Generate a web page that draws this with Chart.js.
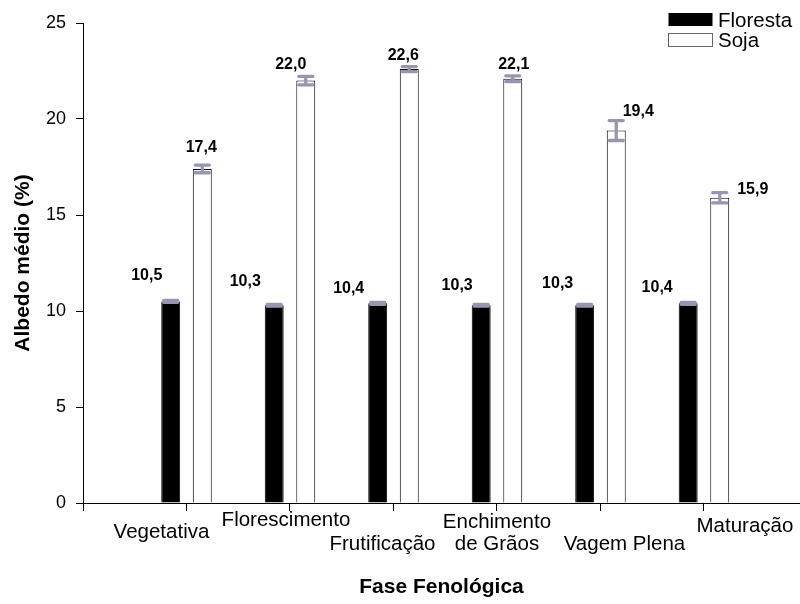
<!DOCTYPE html>
<html>
<head>
<meta charset="utf-8">
<script src="https://cdn.jsdelivr.net/npm/chart.js@4"></script>
<style>
  html, body { margin: 0; padding: 0; background: #fff; }
</style>
</head>
<body>
<canvas id="chart" width="800" height="604"></canvas>
<script>
// Data
const categories = ['Vegetativa', 'Florescimento', 'Frutificação', ['Enchimento', 'de Grãos'], 'Vagem Plena', 'Maturação'];
const florestaValues = [10.5, 10.3, 10.4, 10.3, 10.3, 10.4];
const sojaValues = [17.4, 22.0, 22.6, 22.1, 19.4, 15.9];
const florestaErrors = [0.05, 0.05, 0.05, 0.05, 0.05, 0.05];
const sojaErrors = [0.2, 0.22, 0.13, 0.15, 0.52, 0.27];
const yTicks = [0, 5, 10, 15, 20, 25];
const seriesNames = ['Floresta', 'Soja'];

// Layout tweaks (pixel nudges relative to scale positions)
const FONT = "'Liberation Sans', Arial, Helvetica, sans-serif";
const ERR_COLOR = '#9696b0';
const florestaLabelShift = [[-24, -21], [-29, -19], [-29, -10], [-24, -15], [-27, -17], [-31, -11]];
const sojaLabelShift = [[-1, -17], [-15, -12], [-6, -9], [1, -10], [22, -15], [33, -4]];
const xLabelShift = [[-25, 35], [-4, 23], [-11, 47], [0, 25], [24, 47], [41, 29]];

const fmt = v => v.toFixed(1).replace('.', ',');

const errorBars = {
    id: 'errorBars',
    afterDatasetsDraw(chart) {
        const ctx = chart.ctx;
        const yScale = chart.scales.y;
        [florestaErrors, sojaErrors].forEach((errs, di) => {
            const meta = chart.getDatasetMeta(di);
            const values = di === 0 ? florestaValues : sojaValues;
            meta.data.forEach((bar, i) => {
                const top = yScale.getPixelForValue(values[i] + errs[i]);
                const bot = yScale.getPixelForValue(values[i] - errs[i]);
                const half = 7;
                ctx.save();
                ctx.strokeStyle = ERR_COLOR;
                ctx.lineWidth = 3.3;
                ctx.lineCap = 'round';
                ctx.beginPath();
                ctx.moveTo(bar.x, top);
                ctx.lineTo(bar.x, bot);
                ctx.moveTo(bar.x - half, top);
                ctx.lineTo(bar.x + half, top);
                ctx.moveTo(bar.x - half, bot);
                ctx.lineTo(bar.x + half, bot);
                ctx.stroke();
                ctx.restore();
            });
        });
    }
};

const valueLabels = {
    id: 'valueLabels',
    afterDraw(chart) {
        const ctx = chart.ctx;
        ctx.save();
        ctx.fillStyle = '#000';
        ctx.font = 'bold 16px ' + FONT;
        ctx.textAlign = 'center';
        ctx.textBaseline = 'alphabetic';
        [florestaValues, sojaValues].forEach((values, di) => {
            const shifts = di === 0 ? florestaLabelShift : sojaLabelShift;
            chart.getDatasetMeta(di).data.forEach((bar, i) => {
                ctx.fillText(fmt(values[i]), bar.x + shifts[i][0], bar.y + shifts[i][1]);
            });
        });

        // category labels under the x axis
        const xScale = chart.scales.x;
        const base = chart.chartArea.bottom;
        ctx.font = '20.5px ' + FONT;
        categories.forEach((cat, i) => {
            const x = xScale.getPixelForValue(i) + xLabelShift[i][0];
            const lines = Array.isArray(cat) ? cat : [cat];
            lines.forEach((line, k) => {
                ctx.fillText(line, x, base + xLabelShift[i][1] + k * 22);
            });
        });

        // legend
        ctx.textAlign = 'left';
        ctx.font = '20.5px ' + FONT;
        ctx.fillStyle = '#000';
        ctx.fillRect(668.5, 13, 44, 13);
        ctx.fillStyle = '#fff';
        ctx.fillRect(668.5, 33.5, 44, 13);
        ctx.strokeStyle = '#666';
        ctx.lineWidth = 1;
        ctx.strokeRect(668.5, 33.5, 44, 13);
        ctx.fillStyle = '#000';
        ctx.fillText(seriesNames[0], 718, 27);
        ctx.fillText(seriesNames[1], 718, 47);
        ctx.restore();
    }
};

new Chart(document.getElementById('chart'), {
    type: 'bar',
    data: {
        datasets: [
            {
                label: seriesNames[0],
                data: florestaValues.map((v, i) => ({ x: i, y: v })),
                backgroundColor: '#000',
                borderColor: '#000',
                borderWidth: 1
            },
            {
                label: seriesNames[1],
                data: sojaValues.map((v, i) => ({ x: i, y: v })),
                backgroundColor: '#fff',
                borderColor: '#000',
                borderWidth: 1
            }
        ]
    },
    options: {
        responsive: false,
        animation: false,
        events: [],
        categoryPercentage: 0.61,
        barPercentage: 0.6,
        layout: { padding: { top: 23, right: 0, bottom: 0, left: 0 } },
        plugins: {
            legend: { display: false },
            tooltip: { enabled: false }
        },
        scales: {
            x: {
                type: 'linear',
                min: -1,
                max: 5.928,
                offset: false,
                afterBuildTicks: s => { s.ticks = [-1, 0, 1, 2, 3, 4, 5].map(v => ({ value: v })); },
                afterFit: s => { s.height = 101; },
                ticks: { display: false },
                grid: { offset: false, drawOnChartArea: false, drawTicks: true, tickLength: 8, color: '#000' },
                border: { color: '#000', width: 1 },
                title: {
                    display: true,
                    text: 'Fase Fenológica',
                    color: '#000',
                    font: { family: FONT, size: 21, weight: 'bold' },
                    padding: { top: 0, bottom: 4 }
                }
            },
            y: {
                min: 0,
                max: 25,
                afterBuildTicks: s => { s.ticks = yTicks.map(v => ({ value: v })); },
                afterFit: s => { s.width = 83; },
                ticks: { color: '#000', padding: 10, font: { family: FONT, size: 18 } },
                grid: { drawOnChartArea: false, drawTicks: true, tickLength: 7, color: '#000' },
                border: { color: '#000', width: 1 },
                title: {
                    display: true,
                    text: 'Albedo médio (%)',
                    color: '#000',
                    font: { family: FONT, size: 21, weight: 'bold' },
                    padding: { top: 11, bottom: 0 }
                }
            }
        }
    },
    plugins: [errorBars, valueLabels]
});
</script>
</body>
</html>
